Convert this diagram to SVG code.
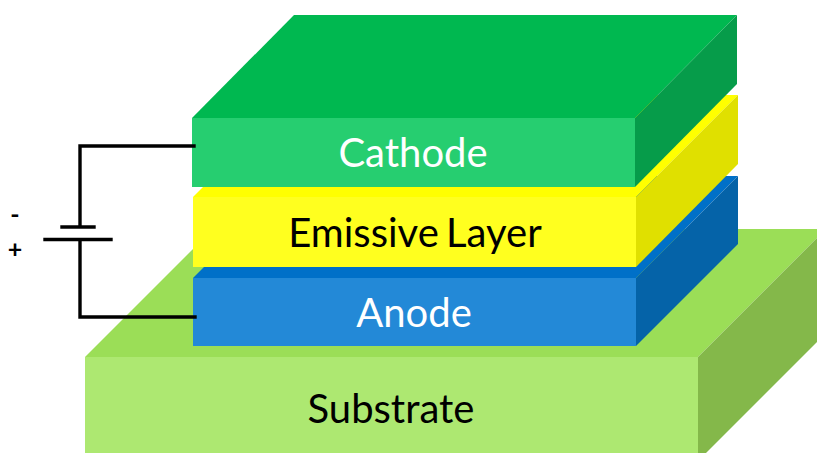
<svg xmlns="http://www.w3.org/2000/svg" width="817" height="453" viewBox="0 0 817 453">
<style>
.t{font-family:Lato,"Liberation Sans",sans-serif;font-size:40px;text-anchor:middle}
.w{fill:none;stroke:#000;stroke-width:3.4;stroke-linecap:square;stroke-linejoin:miter}
.s{font-family:Lato,"Liberation Sans",sans-serif;font-size:25px;font-weight:700;text-anchor:middle}
</style>
<rect width="817" height="453" fill="#fff"/>
<g id="substrate">
<polygon points="85,357 213,229 826,229 698,357" fill="#9BDE57"/>
<polygon points="698,357 826,229 826,333 706,453 698,453" fill="#84B84A"/>
<rect x="85" y="357" width="613" height="96" fill="#ADE871"/>
<text class="t" x="391" y="423" fill="#000">Substrate</text>
</g>
<g id="anode">
<polygon points="193,278 295,176 738,176 636,278" fill="#0070C8"/>
<polygon points="636,278 738,176 738,244 636,346" fill="#0563A8"/>
<rect x="193" y="278" width="443" height="68" fill="#2389D7"/>
<text class="t" x="414" y="327" fill="#fff">Anode</text>
</g>
<g id="emissive-layer">
<polygon points="193,197 295,95 738,95 636,197" fill="#FFFF00"/>
<polygon points="636,197 738,95 738,164 636,267" fill="#E0E000"/>
<rect x="193" y="197" width="443" height="70" fill="#FFFF1F"/>
<text class="t" x="415" y="247" fill="#000" word-spacing="-3">Emissive Layer</text>
</g>
<g id="cathode">
<polygon points="192,118 294,15 737,15 635,118" fill="#00B850"/>
<polygon points="635,118 737,15 737,84 635,187" fill="#069C4A"/>
<rect x="192" y="118" width="443" height="69" fill="#26CE70"/>
<text class="t" x="413" y="167" fill="#fff">Cathode</text>
</g>
<g id="connectors">
<polyline class="w" points="194,146 80,146 80,226"/>
<polyline class="w" points="80,240 80,317 195,317"/>
<line class="w" x1="62" y1="227" x2="94" y2="227"/>
<line class="w" x1="45" y1="239.5" x2="111" y2="239.5"/>
</g>
<g id="battery-labels">
<text class="s" x="15" y="223" fill="#000">-</text>
<text class="s" x="15" y="258" fill="#000">+</text>
</g>
</svg>
